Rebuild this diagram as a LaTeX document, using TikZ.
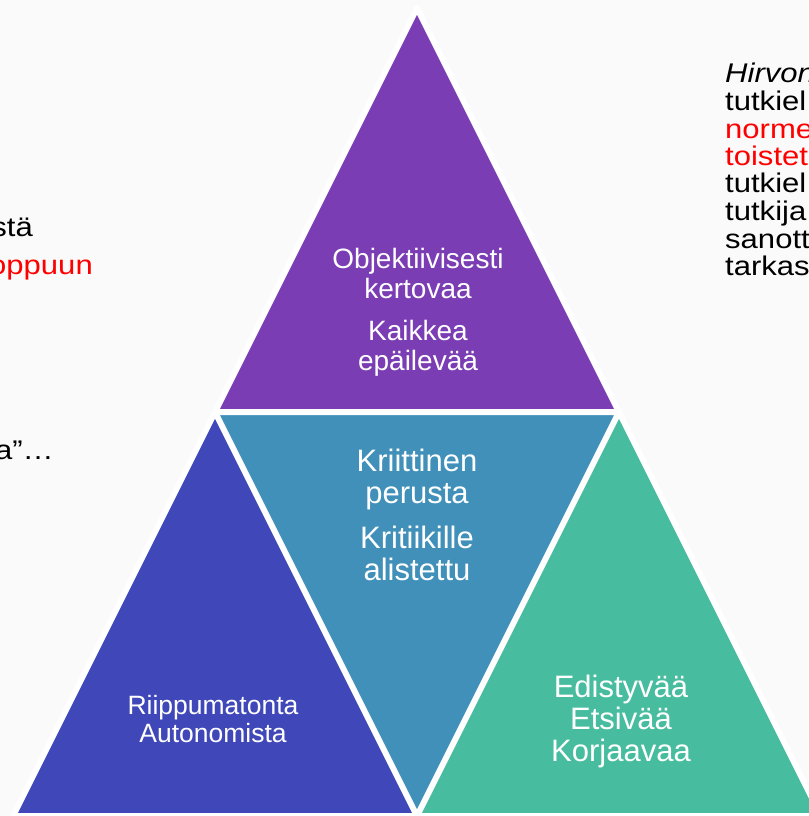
\documentclass[tikz,border=0pt]{standalone}
\usepackage{fontspec}
\setmainfont{Liberation Sans}
\newfontfamily\policeCote[FakeStretch=1.15]{Liberation Sans}
\usepackage{tikz}

\definecolor{fond}{RGB}{250,250,250}
\definecolor{coulHaut}{RGB}{123,61,180}
\definecolor{coulCentre}{RGB}{65,144,186}
\definecolor{coulGauche}{RGB}{64,72,185}
\definecolor{coulDroite}{RGB}{71,188,159}
\definecolor{rouge}{RGB}{255,0,0}

\tikzset{
  separation/.style={draw=white, line width=6pt, line join=round},
  texteTri/.style={text=white, align=center, inner sep=0pt},
  texteCote/.style={font=\policeCote\fontsize{27}{30}\selectfont, text=black, inner sep=0pt}
}

\begin{document}
\begin{tikzpicture}[x=1pt,y=-1pt]

    % Fond de la page
    \useasboundingbox (0,0) rectangle (808,816);
    \fill[fond] (0,0) rectangle (808,816);

    % Sommets du grand triangle et milieux des cotes
    \coordinate (S) at (417,8);
    \coordinate (G) at (13,816);
    \coordinate (D) at (821,816);
    \coordinate (MG) at (215,412);
    \coordinate (MD) at (619,412);
    \coordinate (MB) at (417,816);

    % Les quatre triangles
    \fill[coulHaut] (S) -- (MG) -- (MD) -- cycle;
    \fill[coulCentre] (MG) -- (MD) -- (MB) -- cycle;
    \fill[coulGauche] (MG) -- (G) -- (MB) -- cycle;
    \fill[coulDroite] (MD) -- (MB) -- (D) -- cycle;

    % Traits blancs de separation
    \draw[separation] (S) -- (G) -- (D) -- cycle;
    \draw[separation] (MG) -- (MD) -- (MB) -- cycle;

    % Textes dans les triangles
    \node[texteTri, font=\fontsize{28}{30}\selectfont] (haut) at (418,312)
        {Objektiivisesti\\kertovaa\\[12pt]Kaikkea\\epäilevää};
    \node[texteTri, font=\fontsize{31}{32.5}\selectfont] (centre) at (417,515)
        {Kriittinen\\perusta\\[12pt]Kritiikille\\alistettu};
    \node[texteTri, font=\fontsize{26.5}{28}\selectfont] (gauche) at (213,719)
        {Riippumatonta\\Autonomista};
    \node[texteTri, font=\fontsize{31}{32}\selectfont] (droite) at (621,721)
        {Edistyvää\\Etsivää\\Korjaavaa};

    % Texte coupe a gauche
    \node[texteCote, anchor=base east] (g1) at (33,236) {stä};
    \node[texteCote, anchor=base east, text=rouge] (g2) at (93,274) {oppuun};
    \node[texteCote, anchor=base east] (g3) at (54,459) {a”…};

    % Texte coupe a droite
    \node[texteCote, anchor=base west] (d1) at (725,82) {\textit{Hirvon}};
    \node[texteCote, anchor=base west] (d2) at (725,110) {tutkiel};
    \node[texteCote, anchor=base west, text=rouge] (d3) at (725,138) {norme};
    \node[texteCote, anchor=base west, text=rouge] (d4) at (725,165) {toistet};
    \node[texteCote, anchor=base west] (d5) at (725,192) {tutkiel};
    \node[texteCote, anchor=base west] (d6) at (725,220) {tutkija};
    \node[texteCote, anchor=base west] (d7) at (725,248) {sanott};
    \node[texteCote, anchor=base west] (d8) at (725,275) {tarkas};

\end{tikzpicture}
\end{document}
